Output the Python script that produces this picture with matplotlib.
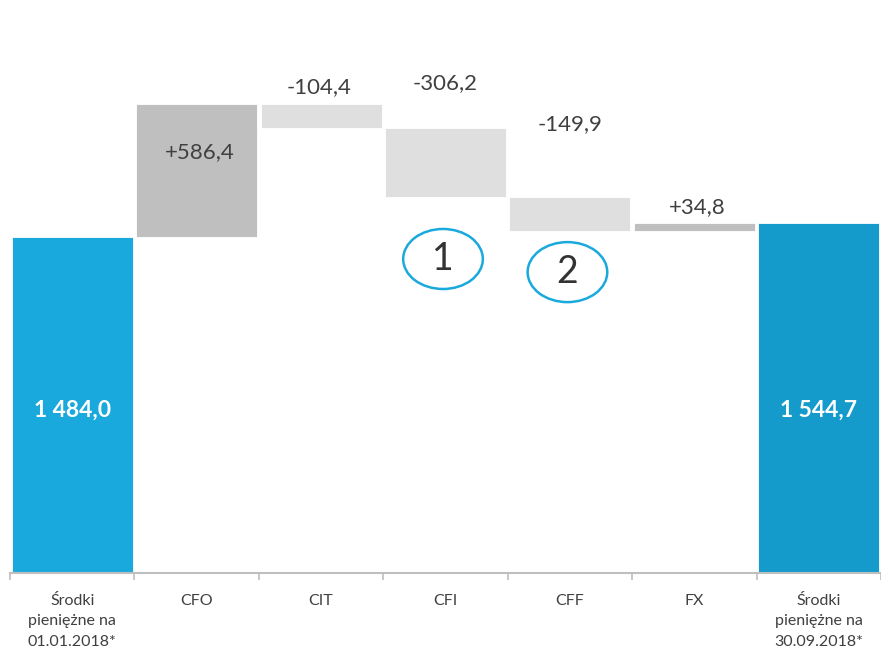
import matplotlib
matplotlib.use("Agg")
import matplotlib.pyplot as plt
from matplotlib.patches import Ellipse

plt.rcParams['font.family'] = ['Lato', 'DejaVu Sans']

categories = ['Środki\npienię\u017cne na\n01.01.2018*', 'CFO', 'CIT', 'CFI', 'CFF', 'FX',
              'Środki\npienię\u017cne na\n30.09.2018*']
start_value = 1484.0
changes = [586.4, -104.4, -306.2, -149.9, 34.8]
end_value = 1544.7
change_labels = ['+586,4', '-104,4', '-306,2', '-149,9', '+34,8']
total_labels = ['1 484,0', '1 544,7']

W, H, DPI = 881, 655, 100
fig = plt.figure(figsize=(W / DPI, H / DPI), dpi=DPI)
base_px = 573
ax = fig.add_axes([10 / W, (H - base_px) / H, 871 / W, base_px / H])
ax.set_xlim(-0.5, 6.5)
ax.set_ylim(0, base_px / 0.2264)

bw = 0.972
text_col = '#404040'

# start bar
ax.bar(0, start_value, width=bw, color='#1AA9DC', edgecolor='white', linewidth=0.6)
# change bars
running = start_value
change_colors = ['#BFBFBF' if c > 0 else '#DFDFDF' for c in changes]
tops = []
for i, c in enumerate(changes):
    bottom = running if c > 0 else running + c
    ax.bar(i + 1, abs(c), bottom=bottom, width=bw, color=change_colors[i],
           edgecolor='white', linewidth=0.6)
    tops.append(bottom + abs(c))
    running += c
# end bar
ax.bar(6, end_value, width=bw, color='#149BCB', edgecolor='white', linewidth=0.6)

# change labels: offsets in pixels relative to bar top (x, y)
offsets_px = [(3, -48), (-2, 17), (0, 45), (0, 73), (3, 16)]
for i, lab in enumerate(change_labels):
    dx, dy = offsets_px[i]
    ax.annotate(lab, (i + 1, tops[i]), xytext=(dx * 0.72, dy * 0.72),
                textcoords='offset points', ha='center', va='center',
                fontsize=16, color=text_col)

# total labels
for xi, lab in zip([0, 6], total_labels):
    ax.annotate(lab, (xi, 0), xytext=(0, 163 * 0.72), textcoords='offset points',
                ha='center', va='center', fontsize=16.5, fontweight='bold', color='white')

# circled markers
for xi, yv, num in [(3, 1387, '1'), (4, 1329, '2')]:
    ax.add_patch(Ellipse((xi - 0.02, yv), 0.64, 265, fill=False,
                         edgecolor='#1AA9DC', linewidth=1.8, zorder=5))
    ax.text(xi - 0.02, yv, num, ha='center', va='center', fontsize=27,
            color='#333333', zorder=6)

# axes styling
for s in ['top', 'right', 'left']:
    ax.spines[s].set_visible(False)
ax.spines['bottom'].set_color('#BFBFBF')
ax.spines['bottom'].set_linewidth(1.5)
ax.set_yticks([])
ax.set_xticks(range(7))
ax.set_xticklabels(categories, fontsize=11.5, color=text_col, linespacing=1.6)
ax.tick_params(axis='x', which='major', length=0, pad=15)
ax.set_xticks([i - 0.5 for i in range(8)], minor=True)
ax.tick_params(axis='x', which='minor', length=5, width=1.2, color='#BFBFBF')

fig.savefig('out.png', dpi=DPI)
